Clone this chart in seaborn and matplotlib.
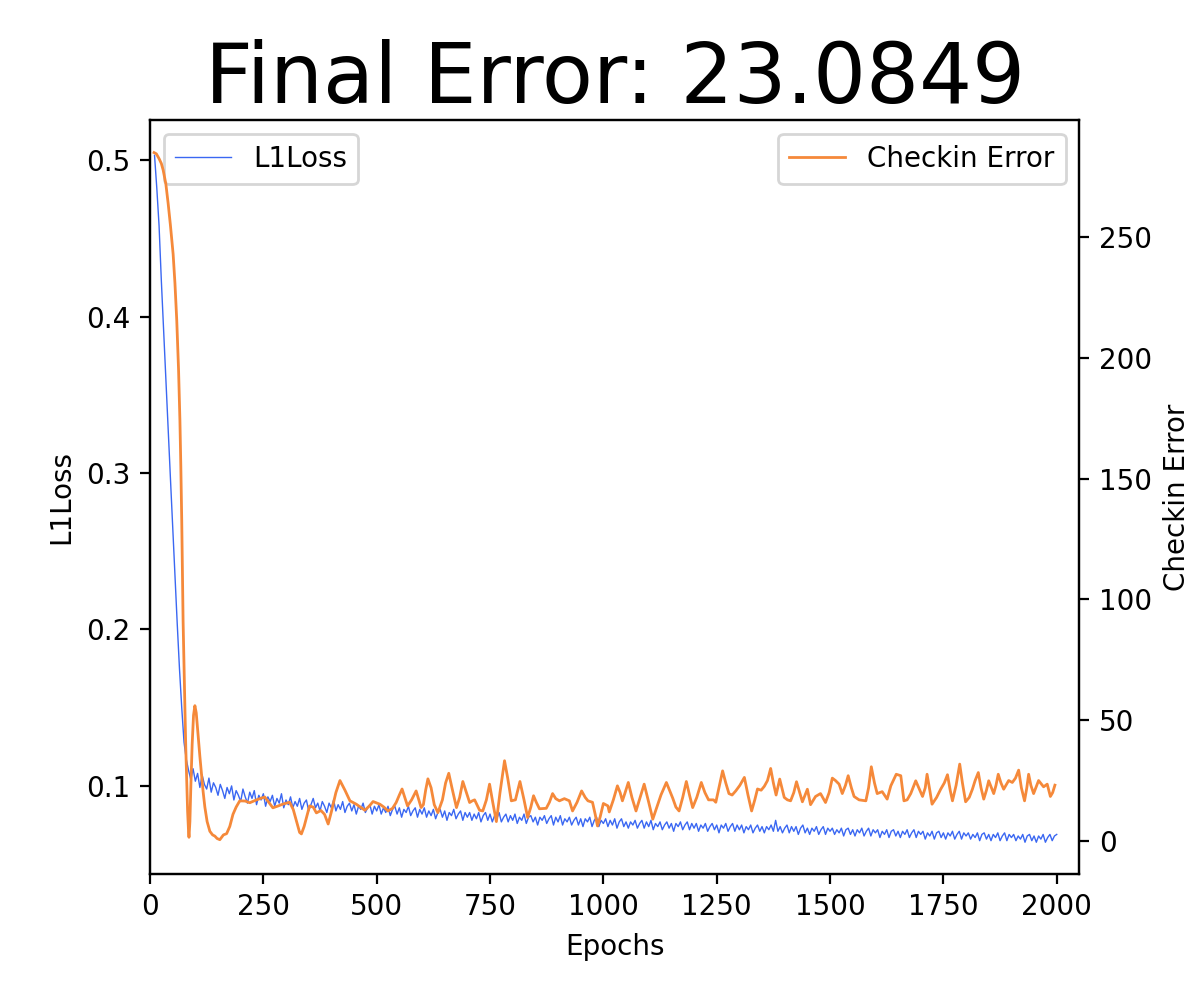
import numpy as np
import pandas as pd
import matplotlib
matplotlib.use("Agg")
import matplotlib.pyplot as plt
import seaborn as sns

# L1Loss, read every 5 epochs from the reference
loss_epochs = list(range(10, 2001, 5))
loss_values = [
    # 10 - 105
    0.503, 0.482, 0.458, 0.423, 0.392, 0.360, 0.328, 0.297, 0.266, 0.236,
    0.204, 0.175, 0.150, 0.128, 0.117, 0.110, 0.104, 0.111, 0.103, 0.108,
    # 110 - 300
    0.099, 0.107, 0.101, 0.098, 0.105, 0.096, 0.102, 0.099, 0.094, 0.101,
    0.097, 0.092, 0.099, 0.095, 0.100, 0.091, 0.097, 0.094, 0.090, 0.098,
    0.093, 0.089, 0.096, 0.092, 0.097, 0.088, 0.094, 0.091, 0.095, 0.087,
    0.093, 0.090, 0.094, 0.087, 0.092, 0.089, 0.095, 0.086, 0.091,
    # 305 - 500
    0.088, 0.093, 0.086, 0.090, 0.087, 0.092, 0.085, 0.089, 0.091, 0.084,
    0.088, 0.092, 0.086, 0.089, 0.084, 0.090, 0.087, 0.083, 0.089, 0.086,
    0.091, 0.084, 0.088, 0.085, 0.090, 0.083, 0.087, 0.089, 0.084, 0.088,
    0.082, 0.087, 0.085, 0.089, 0.083, 0.086, 0.088, 0.082, 0.087, 0.084,
    # 505 - 700
    0.088, 0.082, 0.086, 0.083, 0.087, 0.081, 0.085, 0.087, 0.082, 0.086,
    0.080, 0.085, 0.083, 0.087, 0.081, 0.084, 0.086, 0.080, 0.085, 0.082,
    0.086, 0.080, 0.084, 0.081, 0.085, 0.079, 0.083, 0.085, 0.080, 0.084,
    0.078, 0.083, 0.081, 0.085, 0.079, 0.082, 0.084, 0.078, 0.083, 0.080,
    # 705 - 1000
    0.083, 0.078, 0.082, 0.079, 0.083, 0.077, 0.081, 0.083, 0.078, 0.082,
    0.077, 0.081, 0.079, 0.083, 0.077, 0.080, 0.082, 0.077, 0.081, 0.078,
    0.082, 0.076, 0.080, 0.078, 0.082, 0.076, 0.080, 0.081, 0.077, 0.080,
    0.075, 0.080, 0.078, 0.081, 0.076, 0.079, 0.081, 0.075, 0.080, 0.077,
    0.081, 0.075, 0.079, 0.077, 0.080, 0.075, 0.078, 0.080, 0.075, 0.079,
    0.074, 0.079, 0.077, 0.080, 0.074, 0.078, 0.080, 0.074, 0.078, 0.076,
    # 1005 - 1300
    0.079, 0.074, 0.078, 0.075, 0.079, 0.073, 0.077, 0.079, 0.074, 0.077,
    0.073, 0.077, 0.075, 0.078, 0.073, 0.076, 0.078, 0.073, 0.077, 0.074,
    0.078, 0.072, 0.076, 0.074, 0.077, 0.072, 0.075, 0.077, 0.073, 0.076,
    0.071, 0.076, 0.074, 0.077, 0.072, 0.075, 0.077, 0.072, 0.076, 0.073,
    0.076, 0.071, 0.075, 0.073, 0.076, 0.071, 0.074, 0.076, 0.072, 0.075,
    0.070, 0.075, 0.073, 0.076, 0.071, 0.074, 0.076, 0.071, 0.075, 0.072,
    # 1305 - 1500
    0.075, 0.070, 0.074, 0.072, 0.075, 0.070, 0.073, 0.075, 0.071, 0.074,
    0.070, 0.074, 0.072, 0.075, 0.071, 0.078, 0.071, 0.074, 0.070, 0.073,
    0.075, 0.070, 0.074, 0.071, 0.074, 0.069, 0.073, 0.075, 0.070, 0.073,
    0.069, 0.073, 0.071, 0.074, 0.069, 0.072, 0.074, 0.069, 0.073, 0.071,
    # 1505 - 1750
    0.073, 0.069, 0.072, 0.070, 0.073, 0.068, 0.072, 0.073, 0.069, 0.072,
    0.068, 0.072, 0.070, 0.073, 0.068, 0.071, 0.073, 0.068, 0.072, 0.070,
    0.072, 0.067, 0.071, 0.069, 0.072, 0.067, 0.071, 0.072, 0.068, 0.071,
    0.067, 0.071, 0.069, 0.072, 0.067, 0.070, 0.072, 0.067, 0.071, 0.069,
    0.071, 0.066, 0.070, 0.068, 0.071, 0.066, 0.070, 0.071, 0.067, 0.070,
    # 1755 - 2000
    0.066, 0.070, 0.068, 0.071, 0.066, 0.069, 0.071, 0.066, 0.070, 0.068,
    0.070, 0.066, 0.069, 0.067, 0.070, 0.065, 0.069, 0.070, 0.066, 0.069,
    0.065, 0.069, 0.067, 0.070, 0.065, 0.068, 0.070, 0.065, 0.069, 0.067,
    0.069, 0.065, 0.068, 0.066, 0.069, 0.064, 0.068, 0.069, 0.065, 0.068,
    0.064, 0.068, 0.066, 0.069, 0.064, 0.067, 0.069, 0.065, 0.068, 0.069,
]

# Checkin Error (denser where it bends)
err_epochs = [
    9, 14, 20, 25, 29, 35, 40, 45, 51, 55, 59, 63, 66, 68, 70, 72, 73, 75,
    77, 79, 81, 83, 85, 86, 88, 90, 93, 96, 99, 102, 106, 110, 114, 117, 121,
    126, 132, 138, 143, 148, 154, 162, 169, 176, 183, 190, 198, 210, 220, 235,
    253, 262, 271, 283, 294, 308, 316, 323, 330, 334, 340, 345, 352, 360, 367,
    377, 385, 393, 400, 410, 419, 430, 441, 455, 474, 484, 492, 507, 516, 525,
    535, 543, 550, 556, 562, 568, 577, 587, 593, 598, 603, 608, 613, 620, 627,
    635, 645, 652, 659, 666, 676, 683, 690, 698, 705, 711, 716, 727, 734, 742,
    749, 756, 764, 772, 782, 789, 797, 806, 816, 825, 833, 840, 846, 852, 859,
    874, 881, 888, 895, 903, 914, 925, 932, 942, 952, 960, 966, 976, 982, 987,
    993, 1000, 1010, 1013, 1022, 1031, 1037, 1042, 1048, 1055, 1063, 1072,
    1081, 1090, 1100, 1109, 1118, 1127, 1139, 1146, 1153, 1160, 1167, 1175,
    1183, 1190, 1197, 1206, 1216, 1224, 1232, 1243, 1248, 1255, 1263, 1270,
    1277, 1284, 1292, 1301, 1311, 1319, 1327, 1334, 1340, 1348, 1355, 1362,
    1369, 1375, 1381, 1389, 1399, 1406, 1413, 1420, 1426, 1433, 1439, 1450,
    1457, 1468, 1479, 1490, 1498, 1505, 1512, 1520, 1527, 1534, 1540, 1547,
    1553, 1564, 1579, 1585, 1591, 1598, 1604, 1615, 1626, 1634, 1646, 1656,
    1663, 1670, 1678, 1689, 1704, 1710, 1714, 1720, 1725, 1735, 1744, 1752,
    1759, 1765, 1770, 1778, 1786, 1792, 1799, 1807, 1814, 1820, 1827, 1833,
    1839, 1845, 1850, 1861, 1866, 1871, 1877, 1883, 1894, 1902, 1909, 1916,
    1922, 1929, 1934, 1938, 1943, 1949, 1960, 1971, 1979, 1986, 1991, 1996,
]
err_values = [
    285, 284.5, 282.5, 280.5, 277.8, 272, 264, 255, 243, 231, 215.6, 195, 174,
    155, 132.7, 105, 91, 72, 55, 38, 25, 12, 4, 1.5, 8, 22, 40, 52, 56, 53, 44,
    35, 27, 20.7, 14, 8, 4, 2.5, 2, 1, 0.5, 2.5, 3, 6, 11, 14, 16.6, 16.5,
    15.8, 17, 18.2, 16, 13.7, 14.5, 15.3, 16, 13, 8.3, 3.5, 2.9, 6, 9.5, 14.5,
    14, 11.6, 12.6, 11, 7, 12, 20, 25, 21, 16.6, 15.2, 12.7, 14.5, 16.3, 15.2,
    14, 12.4, 13.5, 15.9, 19, 21.5, 18, 14.5, 17, 20.7, 17, 13.8, 15, 21, 25.7,
    22, 15, 11.7, 17, 24, 28, 22, 13.8, 18, 24.6, 20, 15.9, 16.6, 17, 12.7,
    12.4, 17, 23.5, 16, 8, 20, 33.2, 26, 16.6, 17, 24.6, 17, 9.7, 14, 18.7, 16,
    13.3, 13.5, 16, 19.6, 17.5, 16.6, 17.5, 16.6, 12.4, 16, 20.7, 18, 16.6, 16,
    11, 6.2, 10, 15.5, 14.5, 12, 17, 22.8, 20, 16.6, 20, 24.2, 18, 12.4, 18,
    23.5, 16, 9, 14, 19, 24.2, 21, 17.7, 14, 12.4, 18, 24.6, 19, 13.8, 18, 24.2,
    20, 17, 17, 16, 22, 29, 24, 19.6, 19, 20.7, 23, 26.3, 19, 12.4, 17, 21.5,
    21, 22.6, 25, 30, 24, 19, 25.6, 18, 17, 16.6, 20, 24.5, 20, 16.2, 21.4, 15,
    18.4, 19.6, 15.9, 20, 26, 25, 23.5, 19.6, 23, 27, 22, 18.4, 17, 16.6, 22,
    30.7, 24, 19.6, 20.4, 17.3, 22.8, 27.6, 27, 16.6, 17, 19.6, 24.9, 18.4, 22,
    27.6, 21, 15.2, 18, 21.4, 24, 27.4, 21, 16.6, 23, 31.8, 24, 16.2, 18, 21.4,
    25, 28.3, 22, 17.3, 21, 24.9, 19.6, 23, 27.6, 24, 21.4, 25, 24.2, 26, 29.3,
    22, 16.6, 22, 27.6, 23, 19.6, 25, 22.4, 23.5, 18.4, 20, 23.0849,
]

final_error = err_values[-1]

loss_df = pd.DataFrame({"Epochs": loss_epochs, "L1Loss": loss_values})
err_df = pd.DataFrame({"Epochs": err_epochs, "Checkin Error": err_values})

fig, ax1 = plt.subplots(figsize=(6, 5), dpi=200)
fig.subplots_adjust(left=0.125, right=0.8995, top=0.88, bottom=0.126)

sns.lineplot(data=loss_df, x="Epochs", y="L1Loss", ax=ax1,
             color="#3a67f2", linewidth=0.5, label="L1Loss")
ax1.set_ylim(0.0437, 0.5256)
ax1.set_xlim(0, 2050)
ax1.legend(loc="upper left")

ax2 = ax1.twinx()
sns.lineplot(data=err_df, x="Epochs", y="Checkin Error", ax=ax2,
             color="#f5893a", linewidth=1.0, label="Checkin Error")
ax2.set_ylim(-13.7, 298.5)
ax2.legend(loc="upper right")

ax1.set_xlabel("Epochs")
ax1.set_ylabel("L1Loss")
ax2.set_ylabel("Checkin Error")
ax1.set_title(f"Final Error: {final_error:.4f}", fontsize=30)

plt.savefig("out.png", dpi=200)
plt.close()
